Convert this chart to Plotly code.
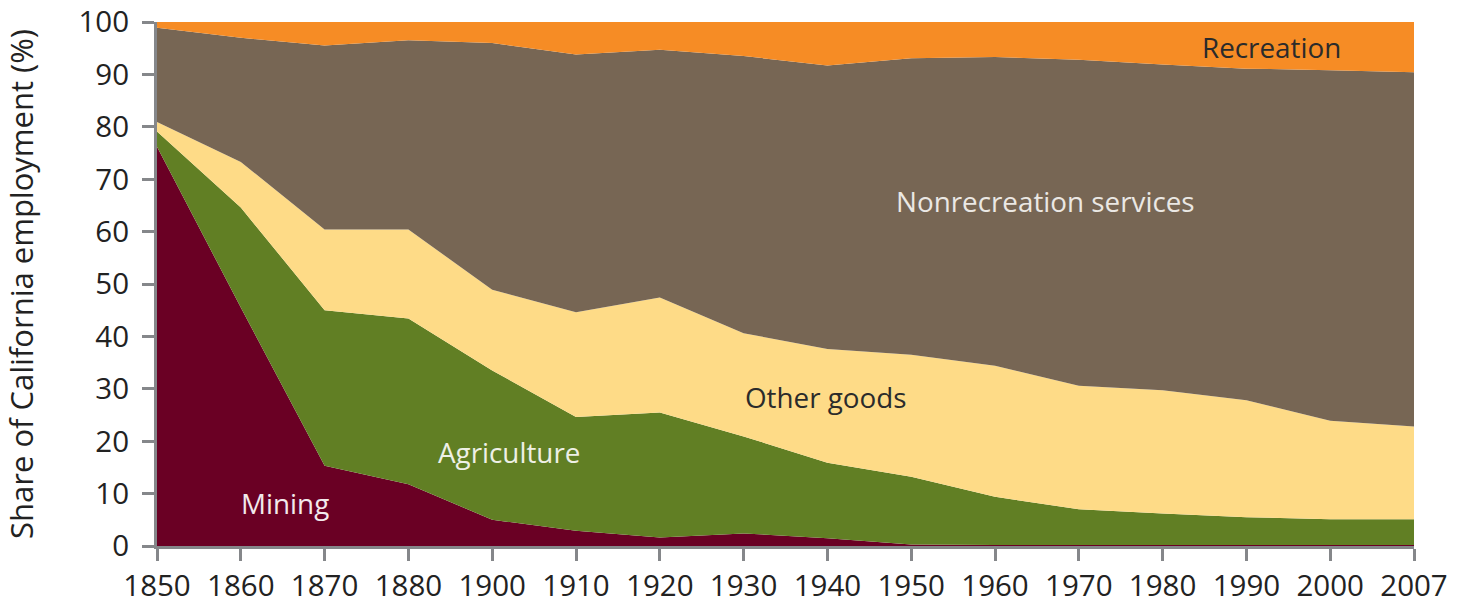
import plotly.graph_objects as go

years = ["1850", "1860", "1870", "1880", "1900", "1910", "1920", "1930",
         "1940", "1950", "1960", "1970", "1980", "1990", "2000", "2007"]

mining = [76.2, 45.5, 15.3, 11.8, 5.0, 2.9, 1.6, 2.4, 1.5, 0.3, 0.2, 0.2, 0.2, 0.2, 0.2, 0.2]
agriculture = [2.9, 19.1, 29.7, 31.6, 28.5, 21.7, 23.9, 18.5, 14.4, 12.9, 9.2, 6.8, 6.0, 5.3, 4.9, 4.9]
other_goods = [1.8, 8.7, 15.4, 17.0, 15.4, 20.0, 21.9, 19.7, 21.7, 23.3, 25.0, 23.6, 23.5, 22.3, 18.8, 17.7]
nonrec_services = [18.0, 23.7, 35.1, 36.1, 47.1, 49.2, 47.3, 52.9, 54.1, 56.6, 58.9, 62.2, 62.2, 63.3, 66.9, 67.6]
recreation = [1.1, 3.0, 4.5, 3.5, 4.0, 6.2, 5.3, 6.5, 8.3, 6.9, 6.7, 7.2, 8.1, 8.9, 9.2, 9.6]

series = [
    ("Mining", mining, "#6a0024"),
    ("Agriculture", agriculture, "#617f24"),
    ("Other goods", other_goods, "#fedb87"),
    ("Nonrecreation services", nonrec_services, "#776654"),
    ("Recreation", recreation, "#f68c25"),
]

fig = go.Figure()
for name, vals, color in series:
    fig.add_trace(go.Scatter(
        x=years, y=vals, name=name, mode="lines", stackgroup="one",
        line=dict(width=0, color=color), fillcolor=color, showlegend=False,
    ))

FONT = "Open Sans"
labels = [
    ("Mining", 1.53, 8.2, "#f2e9ec"),
    ("Agriculture", 4.2, 18.0, "#eef0e6"),
    ("Other goods", 7.98, 28.5, "#2b2b2b"),
    ("Nonrecreation services", 10.6, 65.9, "#ebe8e4"),
    ("Recreation", 13.3, 95.3, "#2b2b2b"),
]
for text, xi, yv, col in labels:
    fig.add_annotation(x=xi, y=yv, xref="x", yref="y", text=text, showarrow=False,
                       font=dict(family=FONT, size=27.8, color=col))

axis_col = "#85878a"
fig.update_layout(
    width=1457, height=605,
    margin=dict(l=157, r=43, t=22, b=59),
    paper_bgcolor="white", plot_bgcolor="white",
    font=dict(family=FONT, color="#222222"),
    xaxis=dict(
        type="category", range=[0, 15], showgrid=False, zeroline=False,
        showline=True, linecolor=axis_col, linewidth=3,
        ticks="outside", ticklen=12, tickwidth=3, tickcolor=axis_col,
        tickfont=dict(family=FONT, size=29.5, color="#222222"),
        ticklabelstandoff=0, automargin=False, ticklabeloverflow="allow",
    ),
    yaxis=dict(
        range=[0, 100], tickvals=list(range(0, 101, 10)), showgrid=False, zeroline=False,
        showline=True, linecolor=axis_col, linewidth=3,
        ticks="outside", ticklen=12, tickwidth=3, tickcolor=axis_col,
        tickfont=dict(family=FONT, size=29.5, color="#222222"),
        ticklabelstandoff=7, automargin=False, ticklabeloverflow="allow",
        title=dict(text="Share of California employment (%)",
                   font=dict(family=FONT, size=31, color="#222222"), standoff=50),
    ),
)

# remove the default 8px page margin so the figure fills the window exactly
fig.write_html("out.html", config={"displayModeBar": False},
               post_script="document.body.style.margin='0';")
